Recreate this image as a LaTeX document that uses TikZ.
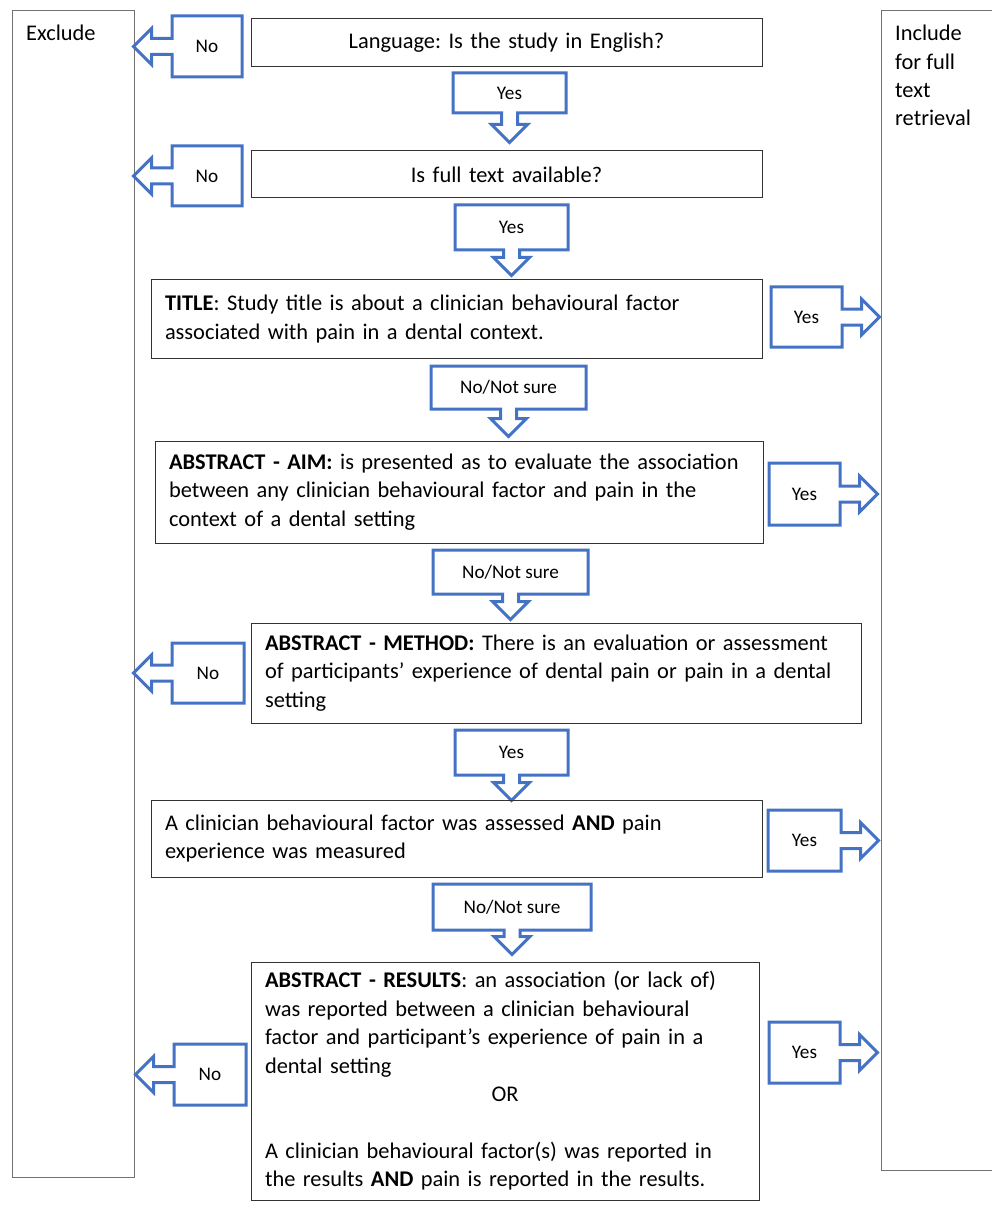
\documentclass[tikz,border=0pt]{standalone}
\usepackage{fontspec}
\setmainfont{Carlito}
\usetikzlibrary{shapes.arrows}
\definecolor{callblue}{RGB}{68,114,196}
\newcommand{\crittxt}{\fontsize{22.4}{28.4}\selectfont\frenchspacing}
\newcommand{\calltxt}{\fontsize{19.2}{23}\selectfont}
\tikzset{
  crit/.style={draw=black!80, line width=1pt, rectangle, inner xsep=14pt, inner ysep=0pt, font=\crittxt},
  column/.style={draw=black!55, line width=1.2pt, rectangle, anchor=north west, inner sep=0pt},
  call/.style={arrow box, draw=callblue, line width=3pt, inner sep=0pt, font=\calltxt,
    arrow box tip angle=90, arrow box shaft width=16pt, arrow box head extend=10pt,
    arrow box north arrow=-1pt, arrow box south arrow=-1pt,
    arrow box east arrow=-1pt, arrow box west arrow=-1pt},
}
\newcommand{\callL}[5]{\node[call, minimum width=#4, minimum height=#5, arrow box west arrow=37pt] (#1) at ( #2 , #3 ) {No};}
\newcommand{\callR}[5]{\node[call, minimum width=#4, minimum height=#5, arrow box east arrow=36pt] (#1) at ( #2 , #3 ) {Yes};}
\newcommand{\callD}[7]{\node[call, minimum width=#4, minimum height=#5, arrow box south arrow=#6pt] (#1) at ( #2 , #3 ) {#7};}

\begin{document}
\begin{tikzpicture}[x=1pt, y=-1pt]
        \useasboundingbox (0,0) rectangle (992,1214);
        % columns
        \node[column, minimum width=122, minimum height=1167] (exclude) at (12,10) {};
        \node[column, minimum width=125, minimum height=1160] (include) at (881,10) {};
        \node[font=\crittxt, anchor=base west, inner sep=0pt] (excludetxt) at (26,41) {Exclude};
        \node[font=\crittxt, anchor=north west, inner sep=0pt, align=left] (includetxt) at (895,25) {Include\\for full\\text\\retrieval};

        % language
        \node[crit, minimum width=511, minimum height=48, text width=483, align=center] (lang) at (506.5,43) {Language: Is the study in English?};
        \callL{noA}{207}{46.5}{70}{61}
        \callD{yesA}{509.5}{93}{113}{40}{28}{Yes}

        % full text
        \node[crit, minimum width=511, minimum height=47, text width=483, align=center] (full) at (506.5,174.5) {Is full text available?};
        \callL{noB}{207}{176}{70}{60}
        \callD{yesB}{511.5}{227.5}{113}{45}{24}{Yes}

        % title
        \node[crit, minimum width=611, minimum height=78, text width=583, align=left] (title) at (456.5,319) {\textbf{TITLE}: Study title is about a clinician behavioural factor\\associated with pain in a dental context.};
        \callR{yesC}{806.5}{317}{71}{60}
        \callD{notsureA}{508.5}{387.5}{155}{43}{26}{No/Not sure}

        % abstract aim
        \node[crit, minimum width=608, minimum height=102, text width=580, align=left] (aim) at (459,492) {\textbf{ABSTRACT - AIM:} is presented as to evaluate the association\\between any clinician behavioural factor and pain in the\\context of a dental setting};
        \callR{yesD}{804.5}{494}{71}{62}
        \callD{notsureB}{510.5}{572}{155}{44}{24}{No/Not sure}

        % abstract method
        \node[crit, minimum width=610, minimum height=100, text width=582, align=left] (method) at (556,673) {\textbf{ABSTRACT - METHOD:} There is an evaluation or assessment\\of participants’ experience of dental pain or pain in a dental\\setting};
        \callL{noC}{208}{673}{72}{60}
        \callD{yesE}{511.5}{752.5}{113}{45}{24}{Yes}

        % factor and pain
        \node[crit, minimum width=611, minimum height=77, text width=583, align=left] (factor) at (456.5,838.5) {A clinician behavioural factor was assessed \textbf{AND} pain\\experience was measured};
        \callR{yesF}{804.5}{840.5}{73}{61}
        \callD{notsureC}{512}{907}{158}{46}{23}{No/Not sure}

        % abstract results
        \node[crit, minimum width=508, minimum height=238, text width=480, align=left] (results) at (505,1081) {\textbf{ABSTRACT - RESULTS}: an association (or lack of)\\was reported between a clinician behavioural\\factor and participant’s experience of pain in a\\dental setting\\\makebox[480pt]{OR}\\[28.4pt]A clinician behavioural factor(s) was reported in\\the results \textbf{AND} pain is reported in the results.};
        \callL{noD}{210}{1074.5}{72}{61}
        \callR{yesG}{804.5}{1052.5}{71}{61}

    \end{tikzpicture}
\end{document}
